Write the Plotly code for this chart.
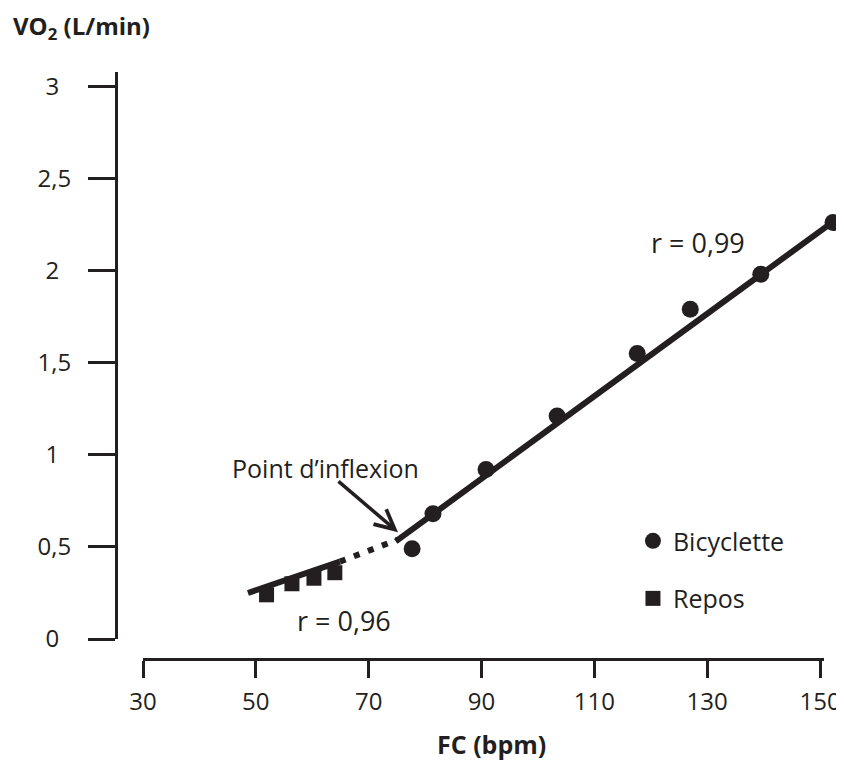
import plotly.graph_objects as go

# ---- data ----
bike_fc = [77.7, 81.4, 90.8, 103.4, 117.6, 127.0, 139.5, 152.3]
bike_vo2 = [0.49, 0.68, 0.92, 1.21, 1.55, 1.79, 1.98, 2.26]
rest_fc = [51.9, 56.4, 60.3, 64.0]
rest_vo2 = [0.24, 0.30, 0.33, 0.36]

bike_fit_fc = [74.8, 152.1]
bike_fit_vo2 = [0.53, 2.26]
rest_fit_fc = [48.6, 64.9]
rest_fit_vo2 = [0.25, 0.42]
rest_ext_fc = [64.9, 75.2]
rest_ext_vo2 = [0.42, 0.54]

x_ticks = [30, 50, 70, 90, 110, 130, 150]
x_ticktext = ["30", "50", "70", "90", "110", "130", "150"]
y_ticks = [0, 0.5, 1, 1.5, 2, 2.5, 3]
y_ticktext = ["0\u2002", "0,5", "1\u2002", "1,5", "2\u2002", "2,5", "3\u2002"]

INK = "#231f20"
FONT = "Open Sans"

# visible FC axis spans 30..150.7; the data axis shares the same scale but
# extends a little further right so the last point is not hidden
X_VIS_RANGE = [30, 150.7]
X_DATA_RANGE = [30, 152.83]

fig = go.Figure()

line_kw = dict(xaxis="x2", yaxis="y", mode="lines", showlegend=False, hoverinfo="skip")
fig.add_trace(go.Scatter(x=rest_fit_fc, y=rest_fit_vo2, line=dict(color=INK, width=6), **line_kw))
fig.add_trace(go.Scatter(x=rest_ext_fc, y=rest_ext_vo2,
                         line=dict(color=INK, width=6, dash="6px,9px"), **line_kw))
fig.add_trace(go.Scatter(x=bike_fit_fc, y=bike_fit_vo2, line=dict(color=INK, width=6), **line_kw))

fig.add_trace(go.Scatter(x=bike_fc, y=bike_vo2, xaxis="x2", yaxis="y", mode="markers",
                         name="Bicyclette", legendgroup="b", cliponaxis=False,
                         marker=dict(symbol="circle", size=17, color=INK)))
fig.add_trace(go.Scatter(x=rest_fc, y=rest_vo2, xaxis="x2", yaxis="y", mode="markers",
                         name="Repos", legendgroup="r", cliponaxis=False,
                         marker=dict(symbol="square", size=15, color=INK)))

# page body has an 8px default margin, so the figure is sized to fit the window
fig.update_layout(
    width=836, height=754,
    margin=dict(l=108, r=8, t=64, b=103, autoexpand=False),
    paper_bgcolor="white", plot_bgcolor="white",
    font=dict(family=FONT, color=INK, size=21),
    xaxis=dict(domain=[0.0375, 0.9833], range=X_VIS_RANGE, anchor="free", position=0,
               automargin=False,
               showgrid=False, zeroline=False, showline=True, linecolor=INK, linewidth=3,
               ticks="outside", ticklen=17, tickwidth=3, tickcolor=INK,
               tickvals=x_ticks, ticktext=x_ticktext, tickfont=dict(size=24),
               ticklabelstandoff=3),
    xaxis2=dict(domain=[0.0375, 1.0], range=X_DATA_RANGE, anchor="y", visible=False,
                automargin=False, showgrid=False, zeroline=False),
    yaxis=dict(domain=[0.034, 1], range=[0, 3.077], anchor="free", position=0,
               automargin=False,
               showgrid=False, zeroline=False, showline=True, linecolor=INK, linewidth=3,
               ticks="outside", ticklen=27, tickwidth=3, tickcolor=INK,
               tickvals=y_ticks, ticktext=y_ticktext, tickfont=dict(size=24),
               ticklabelstandoff=12),
    legend=dict(x=0.718, y=0.240, xanchor="left", yanchor="top",
                font=dict(size=25), tracegroupgap=22, bgcolor="rgba(0,0,0,0)"),
    showlegend=True,
)

fig.add_annotation(text="<b>VO<sub>2</sub> (L/min)</b>", xref="paper", yref="paper",
                   x=-0.1456, y=1.0, xanchor="left", yanchor="bottom", yshift=25,
                   showarrow=False, font=dict(size=24))
fig.add_annotation(text="<b>FC (bpm)</b>", xref="paper", yref="paper",
                   x=0.521, y=0, xanchor="center", yanchor="middle", yshift=-85,
                   showarrow=False, font=dict(size=25))
fig.add_annotation(text="Point d\u2019inflexion", x=62.3, y=0.93, xref="x", yref="y",
                   showarrow=False, font=dict(size=25))
fig.add_annotation(text="", x=75.2, y=0.58, xref="x", yref="y", ax=-61, ay=-52,
                   showarrow=True, arrowhead=5, arrowwidth=3.5, arrowsize=1.1, arrowcolor=INK)
fig.add_annotation(text="r = 0,99", x=128.4, y=2.15, xref="x", yref="y",
                   showarrow=False, font=dict(size=27))
fig.add_annotation(text="r = 0,96", x=65.6, y=0.10, xref="x", yref="y",
                   showarrow=False, font=dict(size=27))

fig.write_html("out.html")
